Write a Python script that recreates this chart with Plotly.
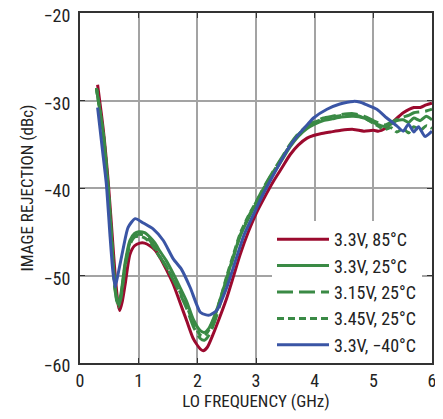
import plotly.graph_objects as go

# ---- data ----
x_r85 = [0.30, 0.40, 0.48, 0.55, 0.60, 0.65, 0.68, 0.72, 0.77, 0.85, 0.93, 1.02, 1.10, 1.19, 1.28, 1.36, 1.47, 1.59, 1.70, 1.82, 1.93, 2.05, 2.10, 2.17, 2.27, 2.38, 2.50, 2.62, 2.73, 2.87, 3.01, 3.15, 3.30, 3.45, 3.58, 3.72, 3.87, 3.98, 4.10, 4.27, 4.45, 4.66, 4.84, 5.00, 5.09, 5.20, 5.34, 5.51, 5.69, 5.80, 5.90, 6.00]
y_r85 = [-28.2, -33.5, -39.2, -45.5, -50.0, -53.3, -54.0, -53.0, -51.0, -47.6, -46.6, -46.3, -46.3, -46.6, -47.1, -47.9, -49.3, -51.0, -53.0, -55.2, -57.2, -58.4, -58.6, -58.2, -56.7, -54.8, -52.6, -50.0, -47.6, -45.0, -42.8, -41.0, -39.2, -37.6, -36.2, -35.1, -34.3, -34.0, -33.8, -33.6, -33.4, -33.3, -33.5, -33.4, -33.5, -33.2, -32.4, -31.4, -30.8, -30.8, -30.5, -30.3]

x_g33 = [0.28, 0.40, 0.48, 0.55, 0.60, 0.65, 0.70, 0.77, 0.85, 0.93, 1.00, 1.10, 1.19, 1.28, 1.36, 1.47, 1.59, 1.70, 1.82, 1.93, 2.05, 2.12, 2.20, 2.30, 2.40, 2.50, 2.62, 2.73, 2.87, 3.01, 3.15, 3.30, 3.45, 3.58, 3.72, 3.87, 4.00, 4.15, 4.30, 4.45, 4.66, 4.84, 5.00, 5.10, 5.20, 5.30, 5.40, 5.51, 5.60, 5.69, 5.80, 5.90, 6.00]
y_g33 = [-28.6, -34.0, -40.0, -47.0, -51.5, -53.3, -52.0, -48.5, -46.0, -45.2, -45.0, -45.1, -45.6, -46.3, -47.2, -48.3, -49.8, -51.3, -53.0, -55.0, -56.3, -56.5, -56.0, -54.5, -52.5, -50.3, -47.7, -45.5, -43.5, -41.7, -39.9, -38.3, -36.7, -35.3, -34.1, -33.2, -32.7, -32.3, -32.1, -31.9, -31.8, -32.0, -32.5, -32.8, -33.0, -32.7, -32.3, -32.2, -32.5, -32.0, -32.3, -31.8, -32.2]

x_g315 = [0.28, 0.40, 0.48, 0.55, 0.60, 0.65, 0.70, 0.77, 0.85, 0.93, 1.00, 1.10, 1.19, 1.28, 1.36, 1.47, 1.59, 1.70, 1.82, 1.93, 2.05, 2.12, 2.20, 2.30, 2.40, 2.50, 2.62, 2.73, 2.87, 3.01, 3.15, 3.30, 3.45, 3.58, 3.72, 3.87, 4.00, 4.15, 4.30, 4.45, 4.66, 4.84, 5.00, 5.10, 5.20, 5.30, 5.40, 5.51, 5.60, 5.69, 5.80, 5.90, 6.00]
y_g315 = [-28.6, -34.0, -40.0, -47.0, -51.8, -53.6, -52.5, -49.0, -46.5, -45.5, -45.3, -45.4, -46.0, -46.8, -47.8, -49.0, -50.5, -52.0, -53.8, -55.8, -57.2, -57.4, -56.8, -55.2, -53.0, -50.6, -47.8, -45.4, -43.3, -41.5, -39.7, -38.0, -36.4, -35.0, -33.8, -32.9, -32.4, -32.0, -31.8, -31.6, -31.5, -31.8, -32.3, -32.6, -32.8, -32.5, -32.2, -31.9, -31.7, -31.4, -31.3, -31.2, -31.0]

x_g345 = [0.28, 0.40, 0.48, 0.55, 0.60, 0.65, 0.70, 0.77, 0.85, 0.93, 1.00, 1.10, 1.19, 1.28, 1.36, 1.47, 1.59, 1.70, 1.82, 1.93, 2.05, 2.12, 2.20, 2.30, 2.40, 2.50, 2.62, 2.73, 2.87, 3.01, 3.15, 3.30, 3.45, 3.58, 3.72, 3.87, 4.00, 4.15, 4.30, 4.45, 4.66, 4.84, 5.00, 5.10, 5.20, 5.30, 5.40, 5.51, 5.60, 5.69, 5.80, 5.90, 6.00]
y_g345 = [-28.6, -34.0, -40.0, -47.0, -51.6, -53.4, -52.2, -48.8, -46.3, -45.6, -45.5, -45.7, -46.2, -47.0, -47.9, -49.0, -50.4, -51.8, -53.5, -55.4, -56.8, -56.9, -56.2, -54.6, -52.5, -50.1, -47.5, -45.2, -43.2, -41.5, -39.8, -38.1, -36.5, -35.1, -33.9, -33.0, -32.5, -32.1, -31.9, -31.7, -31.6, -32.0, -32.6, -33.0, -33.3, -33.1, -33.6, -33.2, -33.7, -33.0, -33.4, -32.9, -33.2]

x_b40 = [0.30, 0.38, 0.45, 0.51, 0.56, 0.60, 0.65, 0.74, 0.82, 0.94, 1.08, 1.25, 1.42, 1.59, 1.73, 1.88, 2.05, 2.15, 2.22, 2.33, 2.50, 2.67, 2.80, 2.96, 3.10, 3.24, 3.38, 3.52, 3.63, 3.75, 3.87, 3.98, 4.21, 4.43, 4.66, 4.78, 4.89, 5.06, 5.23, 5.40, 5.51, 5.60, 5.69, 5.77, 5.88, 6.00]
y_b40 = [-30.8, -35.5, -39.6, -45.3, -49.5, -51.3, -49.8, -46.8, -44.5, -43.5, -44.0, -44.7, -46.0, -48.1, -49.3, -51.4, -54.2, -54.5, -54.5, -54.0, -51.4, -47.9, -45.3, -43.0, -41.0, -39.2, -37.5, -35.8, -34.7, -33.7, -32.8, -32.0, -31.0, -30.4, -30.1, -30.2, -30.5, -31.0, -32.0, -32.9, -33.5, -32.7, -33.6, -33.0, -34.1, -33.5]

names = ["3.3V, 85°C", "3.3V, 25°C", "3.15V, 25°C", "3.45V, 25°C", "3.3V, \u221240°C"]
xs = [x_r85, x_g33, x_g315, x_g345, x_b40]
ys = [y_r85, y_g33, y_g315, y_g345, y_b40]
colors = ["#9b0a2e", "#3a8a45", "#3a8a45", "#3a8a45", "#3a55a5"]
dashes = ["solid", "solid", "16px,6px", "7px,4px", "solid"]

x_ticks = [0, 1, 2, 3, 4, 5, 6]
x_ticklabels = ["0", "1", "2", "3", "4", "5", "6"]
y_ticks = [-60, -50, -40, -30, -20]
y_ticklabels = ["\u221260", "\u221250", "\u221240", "\u221230", "\u221220"]

FONT = "Liberation Sans Narrow, Roboto Condensed, Arial Narrow, Roboto, sans-serif"

fig = go.Figure()
for x, y, n, c, d in zip(xs, ys, names, colors, dashes):
    fig.add_trace(go.Scatter(x=x, y=y, name=n, mode="lines",
                             line=dict(color=c, width=3, dash=d, shape="spline", smoothing=0.6)))

axis_common = dict(showgrid=True, gridcolor="#a3a3a3", gridwidth=2,
                   showline=True, linecolor="#333333", linewidth=2, mirror="ticks",
                   ticks="inside", ticklen=5, tickcolor="#333333", zeroline=False,
                   automargin=False, ticklabeloverflow="allow",
                   tickfont=dict(family=FONT, size=18, color="#222222"))

fig.update_xaxes(range=[0, 6], tickvals=x_ticks, ticktext=x_ticklabels,
                 title=dict(text="LO FREQUENCY (GHz)", font=dict(family=FONT, size=17, color="#222222"), standoff=6),
                 **axis_common)
fig.update_yaxes(range=[-60, -20], tickvals=y_ticks, ticktext=y_ticklabels,
                 ticklabelshift=3, ticklabelstandoff=4,
                 title=dict(text="IMAGE REJECTION (dBc)", font=dict(family=FONT, size=17, color="#222222"), standoff=6),
                 **axis_common)

fig.update_layout(
    width=435, height=411,
    margin=dict(l=72, r=11, t=5, b=56, autoexpand=False),
    plot_bgcolor="white", paper_bgcolor="white",
    showlegend=True,
    legend=dict(x=(272 - 80) / 352, y=0, xanchor="left", yanchor="bottom",
                bgcolor="white", bordercolor="white", borderwidth=0,
                font=dict(family=FONT, size=18, color="#222222"),
                tracegroupgap=0, itemwidth=52),
)

fig.write_html("out.html")
